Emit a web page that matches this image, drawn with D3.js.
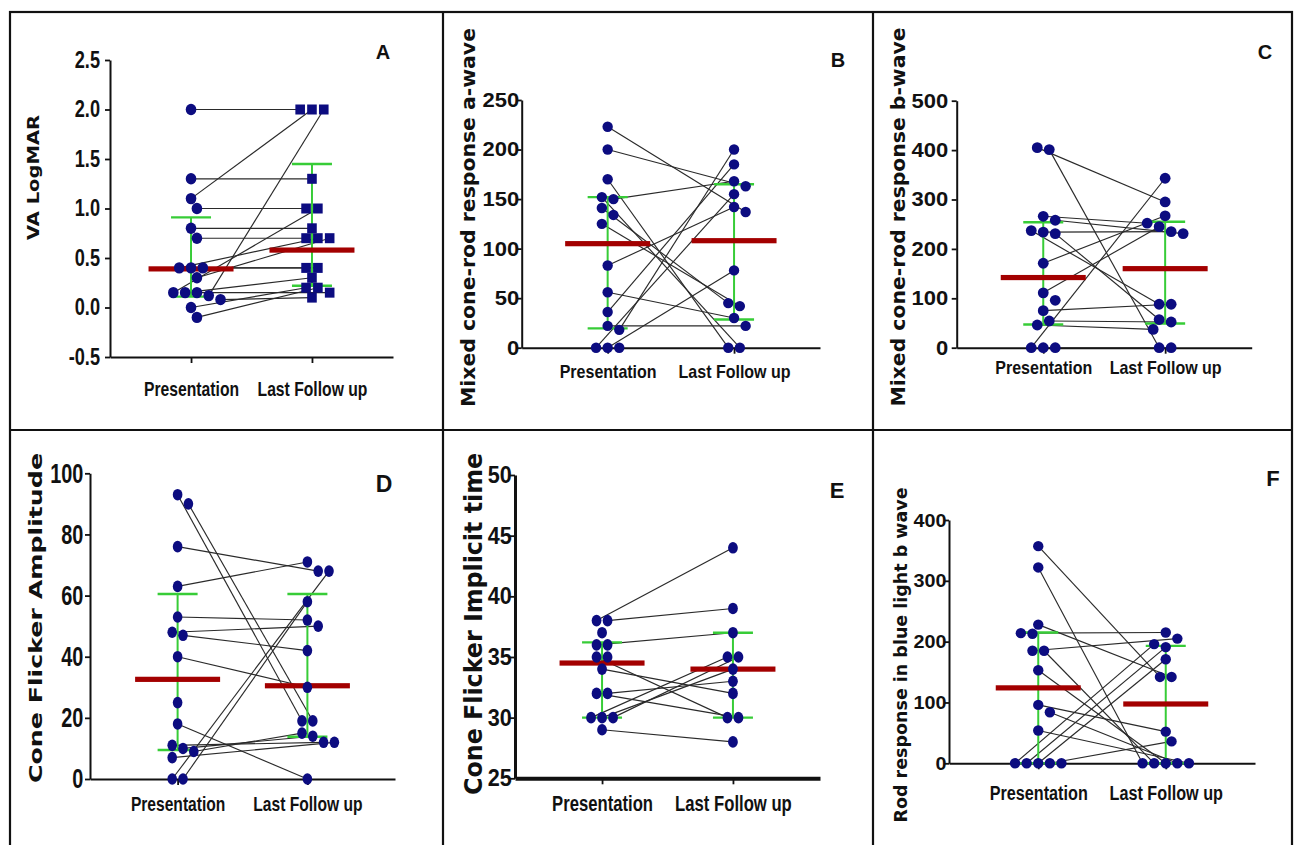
<!DOCTYPE html>
<html>
<head>
<meta charset="utf-8">
<script src="https://cdn.jsdelivr.net/npm/d3@7"></script>
<style>
  body { margin: 0; background: #fff; }
  svg { display: block; }
  .tick text { font-family: "Liberation Sans", Arial, sans-serif; font-weight: bold; fill: #111; }
  .ytitle { font-family: "DejaVu Sans", Verdana, sans-serif; font-weight: bold; fill: #111; }
  .letter { font-family: "Liberation Sans", Arial, sans-serif; font-weight: bold; fill: #111; }
</style>
</head>
<body>
<div id="chart"></div>
<script>
// categories shared by all panels
const cats = ['Presentation', 'Last Follow up'];

// A - VA LogMAR (paired by patient; null = no point)
const preA  = [2.0, 1.1, 0.12, 1.3, 1.0, 0.15, 0.8, 0.7, 0.4, 0.3, 0.4, 0.4, 0.15, 0.0, -0.1, 0.15, 0.08];
const postA = [2.0, 2.0, 2.0, 1.3, 1.0, 1.0, 0.8, 0.7, 0.7, 0.7, 0.4, 0.4, 0.3, 0.2, 0.2, 0.15, 0.1];
const midA = [0.39, 0.58], loA = [0.11, 0.22], hiA = [0.91, 1.45];
const ticksA = [-0.5, 0, 0.5, 1, 1.5, 2, 2.5];

// B - mixed cone-rod a-wave
const preB  = [223, 200, 170, 150, 152, 141, 134, 125, 83, 56, 36, 22, 18, 0, 0, 0];
const postB = [137, 163, 0, 168, 0, 45, null, 42, 142, 30, 185, 22, 200, 155, 78, null];
const midB = [105, 108], loB = [19.5, 28.5], hiB = [152, 165];
const ticksB = [0, 50, 100, 150, 200, 250];

// C - mixed cone-rod b-wave
const preC  = [405, 401, 266, 258, 237, 231, 234, 171, 111, 96, 75, 54, 46, 0, 0, 0];
const postC = [295, 0, 252, 231, 88, 57, 235, 267, 245, null, 88, 52, 37, 343, 0, null];
const midC = [142, 160], loC = [47, 49], hiC = [254, 255];
const ticksC = [0, 100, 200, 300, 400, 500];

// D - cone flicker amplitude
const preD  = [93, 90, 76, 63, 53, 48, 47, 40, 18, 11, 10, 9, 7, 0, 0, 25];
const postD = [19, 19, 68, 71, 52, 50, 42, 30, 0, 12, 14, 15, 12, 68, 58, null];
const midD = [32.6, 30.5], loD = [9.5, 13.8], hiD = [60.5, 60.5];
const ticksD = [0, 20, 40, 60, 80, 100];

// E - cone flicker implicit time
const preE  = [38, 38, 36, 35, 34, 32, 32, 30, 30, 30, 29, 37, 36, 35];
const postE = [44, 39, 37, 30, 32, 30, 33, 35, 34, 35, 28, null, null, null];
const midE = [34.5, 34], loE = [30, 30], hiE = [36.2, 37];
const ticksE = [25, 30, 35, 40, 45, 50];

// F - rod response in blue light b wave
const preF  = [357, 322, 228, 214, 213, 185, 185, 153, 96, 84, 54, 0, 0, 0, 0, 0];
const postF = [142, 0, 142, 215, null, 205, 0, 0, 52, 0, 0, 196, 191, 171, 36, null];
const midF = [124, 97.5], loF = [0, 0], hiF = [215, 193];
const ticksF = [0, 100, 200, 300, 400];

const panels = [
  { letter: 'A', title: 'VA LogMAR', pre: preA, post: postA, mid: midA, lo: loA, hi: hiA, ticks: ticksA, fmt: d => d.toFixed(1), squares: true },
  { letter: 'B', title: 'Mixed cone-rod response a-wave', pre: preB, post: postB, mid: midB, lo: loB, hi: hiB, ticks: ticksB, fmt: d => d },
  { letter: 'C', title: 'Mixed cone-rod response b-wave', pre: preC, post: postC, mid: midC, lo: loC, hi: hiC, ticks: ticksC, fmt: d => d },
  { letter: 'D', title: 'Cone Flicker Amplitude', pre: preD, post: postD, mid: midD, lo: loD, hi: hiD, ticks: ticksD, fmt: d => d },
  { letter: 'E', title: 'Cone Flicker Implicit time', pre: preE, post: postE, mid: midE, lo: loE, hi: hiE, ticks: ticksE, fmt: d => d },
  { letter: 'F', title: 'Rod response in blue light b wave', pre: preF, post: postF, mid: midF, lo: loF, hi: hiF, ticks: ticksF, fmt: d => d }
];

// where each panel sits on the page (tsx / lsx squeeze the bold tick text sideways)
const layout = [
  { ax: 110, top: 60, bot: 357, xEnd: 393, pad: 0.67, sw: 2, xsw: 2, tfs: 23, tsx: 0.79, gap: 10, lfs: 20, lsx: 0.785, lby: 396, rx: 5.3, ry: 5.7,
    t: { x: 38.5, y: 177.5, fs: 16, len: 125 }, L: { x: 383, y: 52, fs: 20 } },
  { ax: 521.7, top: 100, bot: 347.7, xEnd: 820, pad: 0.68, sw: 2, xsw: 2, tfs: 20, tsx: 1.1, gap: 2.5, lfs: 18, lsx: 0.89, lby: 378, rx: 5.2, ry: 5.2,
    t: { x: 475, y: 217.5, fs: 20, len: 379 }, L: { x: 838, y: 60, fs: 20 } },
  { ax: 956.7, top: 100.7, bot: 347.7, xEnd: 1251.7, pad: 0.71, sw: 2, xsw: 2, tfs: 20, tsx: 1.1, gap: 8.4, lfs: 18, lsx: 0.89, lby: 374, rx: 5.4, ry: 5.4,
    t: { x: 905, y: 217, fs: 20, len: 379 }, L: { x: 1265, y: 52, fs: 20 } },
  { ax: 90, top: 473.3, bot: 779, xEnd: 395, pad: 0.675, sw: 2, xsw: 2, tfs: 28, tsx: 0.71, gap: 6.7, lfs: 20, lsx: 0.78, lby: 811, rx: 4.8, ry: 5.8,
    t: { x: 41.7, y: 618, fs: 18, len: 330 }, L: { x: 384, y: 484, fs: 23 } },
  { ax: 515, top: 475, bot: 778.3, xEnd: 820, pad: 0.665, sw: 3, xsw: 4, tfs: 23, tsx: 0.94, gap: 3.3, lfs: 23, lsx: 0.725, lby: 811, rx: 4.9, ry: 5.8,
    t: { x: 482, y: 624, fs: 24, len: 342 }, L: { x: 837, y: 490, fs: 22 } },
  { ax: 949, top: 520, bot: 763.3, xEnd: 1255, pad: 0.70, sw: 2, xsw: 2, tfs: 19, tsx: 1.04, gap: 2.5, lfs: 20, lsx: 0.81, lby: 800, rx: 5.2, ry: 5.2,
    t: { x: 907, y: 655, fs: 17, len: 335 }, L: { x: 1273, y: 478, fs: 22 } }
];

const W = 1294, H = 845;
const svg = d3.select('#chart').append('svg').attr('width', W).attr('height', H);

// panel frame
const frame = svg.append('g').attr('stroke', '#111').attr('stroke-width', 2.2).attr('fill', 'none');
frame.append('rect').attr('x', 10).attr('y', 12).attr('width', 1282).attr('height', 840);
frame.append('line').attr('x1', 443).attr('x2', 443).attr('y1', 12).attr('y2', H);
frame.append('line').attr('x1', 873).attr('x2', 873).attr('y1', 12).attr('y2', H);
frame.append('line').attr('x1', 10).attr('x2', 1292).attr('y1', 430).attr('y2', 430);

const DOT = '#0c0c80', RED = '#a30000', GREEN = '#37cc37';

// spread points of equal value sideways, like a column scatter
function swarm(vals, cx, y, L) {
  const s = L.rx * 2 + 1.2;
  const pts = [];
  vals.forEach((v, i) => { if (v != null) pts.push({ i: i, py: y(v) }); });
  pts.sort((a, b) => a.py - b.py);
  const rows = [];
  pts.forEach(pt => {
    const r = rows[rows.length - 1];
    if (r && pt.py - r[0].py < 3.5) r.push(pt); else rows.push([pt]);
  });
  const placed = [];
  const shifts = [0];
  for (let k = 1; k < 14; k++) shifts.push(k * s / 2, -k * s / 2);
  rows.forEach(r => {
    const n = r.length;
    for (const sh of shifts) {
      const xs = r.map((pt, k) => (k - (n - 1) / 2) * s + sh);
      const ok = r.every((pt, k) => placed.every(q =>
        Math.hypot(xs[k] - q.dx, (pt.py - q.py) * L.rx / L.ry) >= s * 0.92));
      if (ok) {
        r.forEach((pt, k) => { pt.dx = xs[k]; placed.push(pt); });
        break;
      }
    }
  });
  const pos = vals.map(() => null);
  placed.forEach(pt => { pos[pt.i] = [cx + pt.dx, pt.py]; });
  return pos;
}

function drawPanel(p, L) {
  const g = svg.append('g');
  const y = d3.scaleLinear().domain(d3.extent(p.ticks)).range([L.bot, L.top]);
  const x = d3.scalePoint().domain(cats).range([L.ax, L.xEnd]).padding(L.pad);

  // y axis
  const ya = g.append('g').attr('transform', `translate(${L.ax},0)`)
    .call(d3.axisLeft(y).tickValues(p.ticks).tickFormat(p.fmt).tickSize(5).tickSizeOuter(0));
  ya.select('.domain').attr('stroke', '#111').attr('stroke-width', L.sw);
  ya.selectAll('.tick line').attr('stroke', '#111').attr('stroke-width', 1.8);
  ya.selectAll('.tick text')
    .attr('x', -L.gap / L.tsx)
    .attr('transform', `scale(${L.tsx},1)`)
    .style('font-size', L.tfs + 'px');

  // x axis
  const xa = g.append('g').attr('transform', `translate(0,${L.bot})`)
    .call(d3.axisBottom(x).tickSize(6).tickSizeOuter(0));
  xa.select('.domain').attr('stroke', '#111').attr('stroke-width', L.xsw);
  xa.selectAll('.tick line').attr('stroke', '#111').attr('stroke-width', 1.8);
  xa.selectAll('.tick text')
    .attr('y', L.lby - L.bot)
    .attr('dy', 0)
    .attr('transform', `scale(${L.lsx},1)`)
    .style('font-size', L.lfs + 'px');

  // axis title
  g.append('text').attr('class', 'ytitle')
    .attr('transform', `translate(${L.t.x},${L.t.y}) rotate(-90)`)
    .attr('text-anchor', 'middle')
    .attr('textLength', L.t.len)
    .attr('lengthAdjust', 'spacingAndGlyphs')
    .style('font-size', L.t.fs + 'px')
    .text(p.title);

  // panel letter
  g.append('text').attr('class', 'letter')
    .attr('x', L.L.x).attr('y', L.L.y)
    .attr('text-anchor', 'middle').attr('dominant-baseline', 'central')
    .style('font-size', L.L.fs + 'px')
    .text(p.letter);

  const prePos = swarm(p.pre, x(cats[0]), y, L);
  const postPos = swarm(p.post, x(cats[1]), y, L);

  // patient lines
  const pairs = d3.range(p.pre.length).filter(i => prePos[i] && postPos[i]);
  g.append('g').selectAll('line').data(pairs).join('line')
    .attr('x1', i => prePos[i][0]).attr('y1', i => prePos[i][1])
    .attr('x2', i => postPos[i][0]).attr('y2', i => postPos[i][1])
    .attr('stroke', '#2a2a2a').attr('stroke-width', 1.15);

  // spread bars (green) and centre bars (red)
  const bars = g.append('g');
  cats.forEach((c, k) => {
    const cx = x(c);
    bars.append('line').attr('x1', cx).attr('x2', cx).attr('y1', y(p.lo[k])).attr('y2', y(p.hi[k]))
      .attr('stroke', GREEN).attr('stroke-width', 2);
    [p.lo[k], p.hi[k]].forEach(v => {
      bars.append('line').attr('x1', cx - 20).attr('x2', cx + 20).attr('y1', y(v)).attr('y2', y(v))
        .attr('stroke', GREEN).attr('stroke-width', 2.4);
    });
    bars.append('rect').attr('x', cx - 42.5).attr('width', 85)
      .attr('y', y(p.mid[k]) - 2.6).attr('height', 5.2).attr('fill', RED);
  });

  // points
  const dots = g.append('g').attr('fill', DOT);
  dots.selectAll('ellipse.pre').data(prePos.filter(d => d)).join('ellipse')
    .attr('cx', d => d[0]).attr('cy', d => d[1]).attr('rx', L.rx).attr('ry', L.ry);
  const post = postPos.filter(d => d);
  if (p.squares) {
    dots.selectAll('rect.post').data(post).join('rect')
      .attr('x', d => d[0] - 4.8).attr('y', d => d[1] - 5).attr('width', 9.6).attr('height', 10);
  } else {
    dots.selectAll('ellipse.post').data(post).join('ellipse')
      .attr('class', 'post')
      .attr('cx', d => d[0]).attr('cy', d => d[1]).attr('rx', L.rx).attr('ry', L.ry);
  }
}

panels.forEach((p, i) => drawPanel(p, layout[i]));
</script>
</body>
</html>
